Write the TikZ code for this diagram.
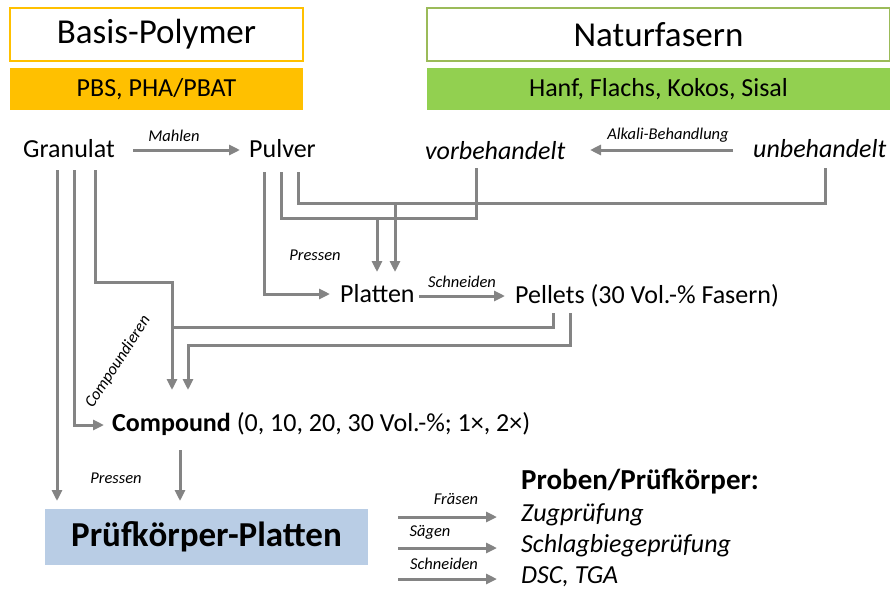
\documentclass[tikz,border=0pt]{standalone}
\usepackage{fontspec}
\setmainfont{Carlito}
\usetikzlibrary{arrows.meta,calc}
\definecolor{lc}{HTML}{848484}
\definecolor{orng}{HTML}{FFC000}
\definecolor{grn}{HTML}{92D050}
\definecolor{grnline}{HTML}{9BBB59}
\definecolor{blu}{HTML}{B9CDE5}
\begin{document}
\begin{tikzpicture}[x=1pt,y=-1pt,
  conn/.style={draw=lc, line width=3pt, -{Triangle[length=11pt,width=10pt]}},
  lin/.style={draw=lc, line width=3pt},
  maintxt/.style={font=\fontsize{26}{30}\selectfont, inner sep=0pt, anchor=west},
  itxt/.style={font=\fontsize{26}{30}\selectfont\itshape, inner sep=0pt, anchor=west},
  lbl/.style={font=\fontsize{16.5}{19}\selectfont\itshape, inner sep=0pt},
  head/.style={font=\fontsize{35}{40}\selectfont, inner sep=0pt, minimum height=53pt, line width=2pt},
  bar/.style={font=\fontsize{26}{30}\selectfont, inner sep=0pt, minimum height=42pt}]
\useasboundingbox (0,0) rectangle (890,589);

% headers
\node[head, draw=orng, minimum width=293pt] (bp) at (156.5,34.5) {Basis-Polymer};
\node[bar, fill=orng, minimum width=293pt] (pbs) at (156.5,89) {PBS, PHA/PBAT};
\node[head, draw=grnline, minimum width=463pt] (nf) at (658.5,34.5) {Naturfasern};
\node[bar, fill=grn, minimum width=463pt] (hf) at (658.5,89) {Hanf, Flachs, Kokos, Sisal};

% first row
\node[maintxt] (gr) at (23,149) {Granulat};
\node[maintxt] (pu) at (249,149) {Pulver};
\node[itxt] (vb) at (425,151) {vorbehandelt};
\node[itxt] (ub) at (753,149) {unbehandelt};
\node[lbl] (lm) at (174,136) {Mahlen};
\node[lbl] (la) at (668,135) {Alkali-Behandlung};
\draw[conn] (133,150) coordinate (m1) -- (240,150) coordinate (m2);
\draw[conn] (733,150) coordinate (a1) -- (590,150) coordinate (a2);

% Platten / Pellets
\node[maintxt] (pl) at (340,294) {Platten};
\node[maintxt] (pe) at (515,296) {Pellets (30 Vol.-\% Fasern)};
\node[lbl] (lpr) at (315,255) {Pressen};
\node[lbl] (lsc) at (462,282) {Schneiden};
\draw[conn] (419,296) coordinate (s1) -- (505,296) coordinate (s2);

% Pulver lines
\draw[conn] (264,172) coordinate (p1) |- (330,294);
\draw[lin] (281,172) coordinate (p2) |- (476,218) -- (476,168) coordinate (v1);
\draw[lin] (298,172) coordinate (p3) |- (825,203) -- (825,168) coordinate (u1);
\draw[conn] (377,218) coordinate (j1) -- (377,272);
\draw[conn] (395,203) coordinate (j2) -- (395,272);

% Compound
\node[maintxt] (co) at (112,424) {\textbf{Compound} (0, 10, 20, 30 Vol.-\%; 1×, 2×)};
\node[lbl, rotate=57] (lco) at (118,362) {Compoundieren};

% Granulat lines
\draw[conn] (57,170) coordinate (g1) -- (57,501);
\draw[conn] (74,170) coordinate (g2) |- (104,425);
\draw[conn] (95,170) coordinate (g3) |- (172,282) -- (172,390);
\draw[lin] (553,313) coordinate (q1) |- (172,327);
\draw[conn] (570,313) coordinate (q2) |- (188,345) -- (188,390);

% Pruefkoerper
\node[fill=blu, minimum width=323pt, minimum height=56pt, inner sep=0pt,
  font=\fontsize{35}{40}\selectfont\bfseries] (pk) at (206.5,537) {Prüfkörper-Platten};
\node[lbl] (lp2) at (116,478) {Pressen};
\draw[conn] (180,450) coordinate (c1) -- (180,501);

\node[maintxt, font=\fontsize{29}{33}\selectfont\bfseries] (pr) at (521,481) {Proben/Prüfkörper:};
\node[itxt] (zp) at (521,515) {Zugprüfung};
\node[itxt] (sb) at (521,546) {Schlagbiegeprüfung};
\node[itxt] (dt) at (521,577) {DSC, TGA};
\node[lbl] (lf) at (456,499) {Fräsen};
\node[lbl] (ls) at (430,532) {Sägen};
\node[lbl] (ln) at (444,564) {Schneiden};
\draw[conn] (398,517) coordinate (f1) -- (497,517);
\draw[conn] (398,548) coordinate (f2) -- (497,548);
\draw[conn] (398,579) coordinate (f3) -- (497,579);
\end{tikzpicture}
\end{document}
